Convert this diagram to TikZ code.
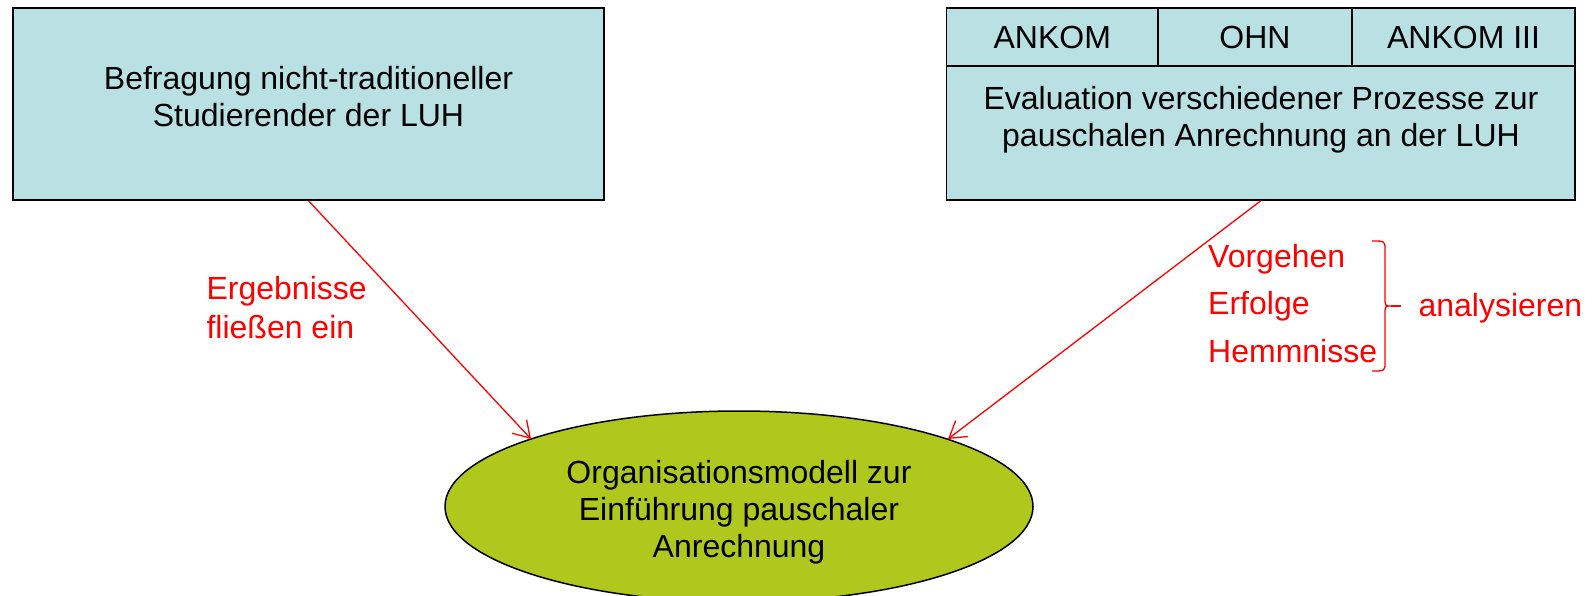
\documentclass[tikz,border=0pt]{standalone}
\usepackage{fontspec}
\setmainfont{Liberation Sans}
\usetikzlibrary{arrows.meta,shapes.geometric}
\definecolor{boxblue}{RGB}{185,224,227}
\definecolor{ellgreen}{RGB}{176,200,30}
\begin{document}
\begin{tikzpicture}[x=1pt,y=-1pt,
  font=\fontsize{32}{37}\selectfont,
  box/.style={draw=black,line width=1.5pt,fill=boxblue,rectangle,inner sep=0pt},
  txt/.style={inner sep=0pt,align=center},
  redtxt/.style={inner sep=0pt,text=red,anchor=west},
  arr/.style={draw=red,line width=1.3pt,-{Straight Barb[length=16pt,width=20pt,line width=1.3pt]}}]
\useasboundingbox (0,0) rectangle (1593,595);
% left box
\node[box,minimum width=591pt,minimum height=192pt] (b1) at (308.5,104) {};
\node[txt] (b1t) at (308.5,96.6) {Befragung nicht-traditioneller\\Studierender der LUH};
% right box
\node[box,minimum width=628.4pt,minimum height=192pt] (b2) at (1260.8,104) {};
\node[box,minimum width=211.4pt,minimum height=58pt] (h1) at (1052.3,37) {};
\node[box,minimum width=194pt,minimum height=58pt] (h2) at (1255,37) {};
\node[box,minimum width=223pt,minimum height=58pt] (h3) at (1463.5,37) {};
\node[txt] (h1t) at (h1) {ANKOM};
\node[txt] (h2t) at (h2) {OHN};
\node[txt] (h3t) at (h3) {ANKOM III};
\node[txt] (b2t) at (1261,119.5) {Evaluation verschiedener Prozesse zur\\pauschalen Anrechnung an der LUH};
% ellipse
\node[ellipse,draw=black,line width=1.5pt,fill=ellgreen,minimum width=588pt,minimum height=191pt,inner sep=0pt] (org) at (739,506.5) {};
\node[txt] (orgt) at (739,512) {Organisationsmodell zur\\Einführung pauschaler\\Anrechnung};
% arrows
\coordinate (t1) at (531,439);
\coordinate (t2) at (948,439);
\draw[arr] (b1.south) -- (t1);
\draw[arr] (b2.south) -- (t2);
% red labels
\node[redtxt] (l1) at (206.4,291.5) {Ergebnisse};
\node[redtxt] (l2) at (206.4,327.4) {fließen ein};
\node[redtxt] (r1) at (1208,259.5) {Vorgehen};
\node[redtxt] (r2) at (1208,306.5) {Erfolge};
\node[redtxt] (r3) at (1208,350.8) {Hemmnisse};
\node[redtxt] (r4) at (1418.4,308.5) {analysieren};
% brace
\coordinate (bt) at (1372,241);
\coordinate (bb) at (1372,371);
\coordinate (bm) at (1391,306);
\coordinate (be) at (1401,306);
\draw[red,line width=1.3pt] (bt) .. controls (1385,241) .. (1385,250) -- (1385,297)
  .. controls (1385,306) .. (bm) .. controls (1385,306) .. (1385,315) -- (1385,362)
  .. controls (1385,371) .. (bb);
\draw[red,line width=1.3pt] (bm) -- (be);
\end{tikzpicture}
\end{document}
